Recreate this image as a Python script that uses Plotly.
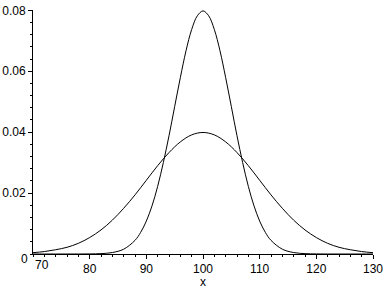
import plotly.graph_objects as go

# values
narrow_x = [70, 72, 74, 76, 78, 80, 82, 84, 86, 88, 89, 90, 91, 92, 93, 94, 95, 96, 97, 98, 99,
            100, 101, 102, 103, 104, 105, 106, 107, 108, 109, 110, 111, 112,
            114, 116, 118, 120, 122, 124, 126, 128, 130]
narrow = [0, 0, 0, 0, 0, 0.00003, 0.00012, 0.00048, 0.00158, 0.00448, 0.0071, 0.0108, 0.0158,
          0.0222, 0.0300, 0.0388, 0.0484, 0.0579, 0.0667, 0.0737, 0.0782,
          0.0798, 0.0782, 0.0737, 0.0667, 0.0579, 0.0484, 0.0388, 0.0300, 0.0222, 0.0158,
          0.0108, 0.0071, 0.00448,
          0.00158, 0.00048, 0.00012, 0.00003, 0, 0, 0, 0, 0]
wide_x = list(range(70, 131, 2))
wide = [0.00044, 0.0008, 0.0014, 0.0022, 0.0035, 0.0054, 0.0079, 0.0111, 0.0150, 0.0194,
        0.0242, 0.0290, 0.0333, 0.0368, 0.0391, 0.0399, 0.0391, 0.0368, 0.0333, 0.0290,
        0.0242, 0.0194, 0.0150, 0.0111, 0.0079, 0.0054, 0.0035, 0.0022, 0.0014, 0.0008,
        0.00044]

x_ticks = [80, 90, 100, 110, 120, 130]
y_ticks = [0.02, 0.04, 0.06, 0.08]
y_tick_text = ["0.02", "0.04", "0.06", "0.08"]

fig = go.Figure()
for xs, ys in ((narrow_x, narrow), (wide_x, wide)):
    fig.add_trace(go.Scatter(x=xs, y=ys, mode="lines",
                             line=dict(color="black", width=1, shape="spline", smoothing=1.0),
                             hoverinfo="skip", showlegend=False))

font = dict(family="Liberation Sans, Arial, sans-serif", size=12, color="black")

fig.update_layout(
    width=388, height=288,
    margin=dict(l=33, r=15, t=10, b=34),
    paper_bgcolor="white", plot_bgcolor="white",
    font=font,
    xaxis=dict(range=[70, 130], showgrid=False, zeroline=False, showline=True, automargin=False,
               linecolor="black", linewidth=1, ticks="outside", ticklen=4, tickcolor="black",
               tickvals=x_ticks, ticktext=[str(v) for v in x_ticks], tickfont=font,
               minor=dict(dtick=2, tick0=70, ticks="outside", ticklen=2, tickcolor="black")),
    yaxis=dict(range=[0, 0.0801], showgrid=False, zeroline=False, showline=True, automargin=False,
               linecolor="black", linewidth=1, ticks="outside", ticklen=4, tickcolor="black",
               tickvals=y_ticks, ticktext=y_tick_text, tickfont=font,
               minor=dict(dtick=0.004, tick0=0, ticks="outside", ticklen=2, tickcolor="black")),
)
# origin labels (offset as in the reference)
fig.add_annotation(x=70, y=0, xref="x", yref="y", text="70", showarrow=False,
                   xanchor="left", yanchor="top", yshift=-2, font=font)
fig.add_annotation(x=70, y=0, xref="x", yref="y", text="0", showarrow=False,
                   xanchor="right", yanchor="middle", xshift=-3, yshift=-5, font=font)
# axis title
fig.add_annotation(x=100, y=0, xref="x", yref="paper", text="x", showarrow=False,
                   xanchor="center", yanchor="top", yshift=-19, font=font)
fig.write_html("out.html")
